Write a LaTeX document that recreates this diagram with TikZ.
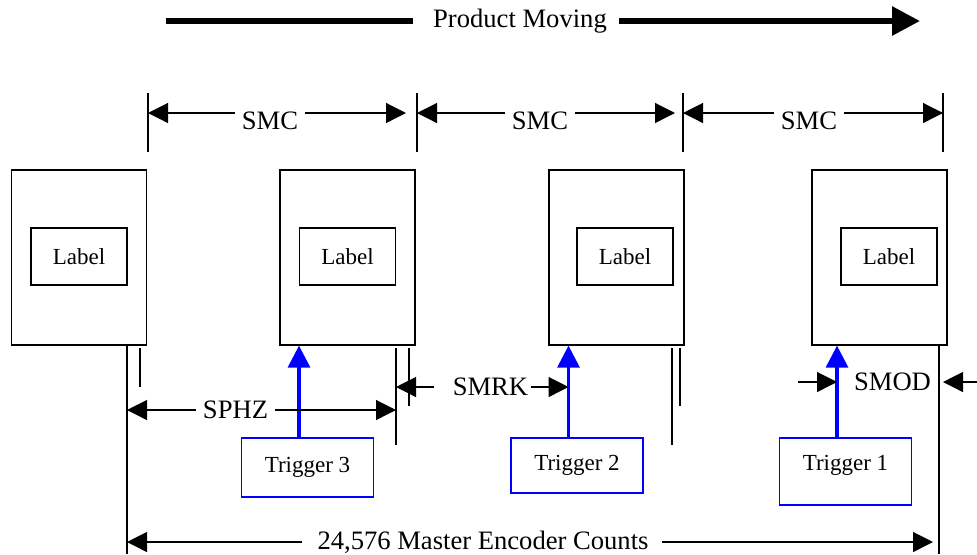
\documentclass[tikz,border=0pt]{standalone}
\usepackage{fontspec}
\setmainfont{Liberation Serif}
\usepackage{tikz}
\usetikzlibrary{arrows.meta}

\begin{document}
\begin{tikzpicture}[x=0.5pt, y=-0.5pt, every node/.style={font=\fontsize{13.3}{16}\selectfont},
  thinline/.style={line width=0.6pt},
  dim/.style={line width=0.6pt, -{Triangle[length=10pt,width=10pt]}},
  labelbox/.style={draw, line width=0.6pt, minimum width=67.5pt, minimum height=87.5pt},
  tag/.style={draw, line width=0.6pt, minimum width=48pt, minimum height=28.5pt, font=\fontsize{11.5}{14}\selectfont},
  trigbox/.style={draw=blue, line width=0.6pt, minimum width=66pt, font=\fontsize{11.5}{14}\selectfont},
  trigarrow/.style={blue, line width=1.6pt, -{Triangle[length=11pt,width=11pt]}}]
  \useasboundingbox (0,0) rectangle (977,554);

  % direction of travel
  \coordinate (pmL) at (166,21);
  \coordinate (pmR) at (920,21);
  \node[inner xsep=2pt] (pm) at (520,21) {Product Moving};
  \draw[line width=3pt] (pmL) -- ([xshift=-8pt]pm.west);
  \draw[line width=3pt,-{Triangle[length=14pt,width=14pt]}] ([xshift=4pt]pm.east) -- (pmR);

  % SMC pitch
  \foreach \x [count=\i] in {148,417,683,943} {
    \draw[thinline] (\x,93) -- (\x,152);
    \coordinate (s\i) at (\x,113);
  }
  \coordinate (e1) at (406,113);
  \coordinate (e2) at (675,113);
  \node (smc1) at (270,121) {SMC};
  \node (smc2) at (540,121) {SMC};
  \node (smc3) at (809,121) {SMC};
  \draw[dim] ([yshift=4pt]smc1.west) -- (s1);
  \draw[dim] ([yshift=4pt]smc1.east) -- (e1);
  \draw[dim] ([yshift=4pt]smc2.west) -- (s2);
  \draw[dim] ([yshift=4pt]smc2.east) -- (e2);
  \draw[dim] ([yshift=4pt]smc3.west) -- (s3);
  \draw[dim] ([yshift=4pt]smc3.east) -- (s4);

  % products
  \node[labelbox] (box1) at (79,257.5) {};
  \node[labelbox] (box2) at (347.5,257.5) {};
  \node[labelbox] (box3) at (616.5,257.5) {};
  \node[labelbox] (box4) at (879.5,257.5) {};
  \node[tag] (lab1) at (79,256.5) {Label};
  \node[tag] (lab2) at (347.5,256.5) {Label};
  \node[tag] (lab3) at (625,256.5) {Label};
  \node[tag] (lab4) at (889,256.5) {Label};

  % triggers
  \node[trigbox, minimum height=29.5pt] (trig3) at (307.5,467.5) {Trigger 3};
  \node[trigbox, minimum height=27.5pt] (trig2) at (577,465.5) {Trigger 2};
  \node[trigbox, minimum height=33.5pt, text depth=9pt] (trig1) at (845.5,471.5) {Trigger 1};
  \draw[trigarrow] ([xshift=-4.25pt]trig3.north) -- ([xshift=-4.25pt]trig3.north |- box2.south);
  \draw[trigarrow] ([xshift=-4.25pt]trig2.north) -- ([xshift=-4.25pt]trig2.north |- box3.south);
  \draw[trigarrow] ([xshift=-4.25pt]trig1.north) -- ([xshift=-4.25pt]trig1.north |- box4.south);

  % reference lines
  \draw[thinline] (127,345) -- (127,554);
  \draw[thinline] (939,345) -- (939,554);
  \foreach \x/\y in {140/387,409/406,680/406,396/445,672/445}
    \draw[thinline] (\x,348) -- (\x,\y);

  % offsets
  \coordinate (p1) at (127,410);
  \coordinate (p2) at (396,410);
  \node (sphz) at (235.5,410) {SPHZ};
  \draw[dim] (sphz.west) -- (p1);
  \draw[dim] (sphz.east) -- (p2);

  \coordinate (k1) at (396,387);
  \node[inner xsep=1pt] (smrk) at (490.5,387) {SMRK};
  \draw[dim] ([xshift=-8pt]smrk.west) -- (k1);
  \draw[dim] (smrk.east) -- ([xshift=-4.25pt]trig2.north |- smrk);

  \coordinate (m1) at (798,382);
  \coordinate (m2) at (977,382);
  \coordinate (m3) at (943,382);
  \node (smod) at (892.5,382) {SMOD};
  \draw[dim] (m1) -- ([xshift=-4.25pt]trig1.north |- smod);
  \draw[dim] (m2) -- (m3);

  % one full cycle
  \coordinate (c1) at (127,542);
  \coordinate (c2) at (933,542);
  \node (enc) at (483,542) {24,576 Master Encoder Counts};
  \draw[dim] ([xshift=-4pt]enc.west) -- (c1);
  \draw[dim] ([xshift=3pt]enc.east) -- (c2);
\end{tikzpicture}
\end{document}
